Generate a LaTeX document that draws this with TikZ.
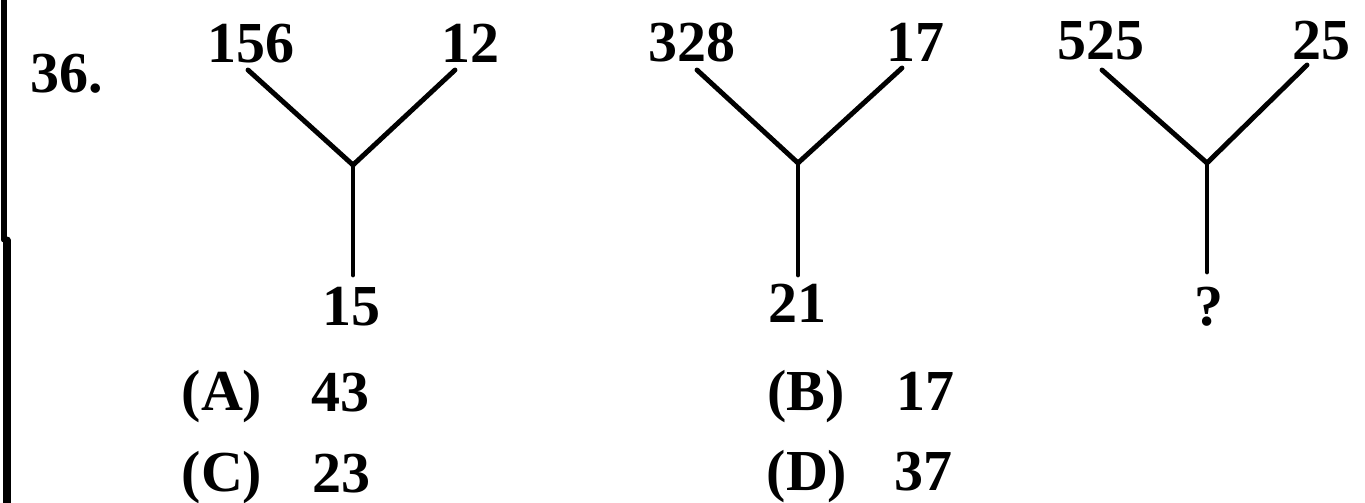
\documentclass[tikz,border=0pt]{standalone}
\usepackage{fontspec}
\setmainfont{Liberation Serif}
\usepackage{tkz-euclide}
\usepackage{tikz}

\tikzset{num/.style={font=\fontsize{33}{36}\selectfont\bfseries, inner sep=0pt, anchor=base}}

\begin{document}
\begin{tikzpicture}[x=0.2mm,y=-0.2mm]
\useasboundingbox (0,0) rectangle (1365,503);

% definitions
\tkzDefPoint(248,70){L1}
\tkzDefPoint(455,70){R1}
\tkzDefPoint(353,165){J1}
\tkzDefPoint(353,275){D1}
\tkzDefPoint(697,70){L2}
\tkzDefPoint(902,68){R2}
\tkzDefPoint(798,163){J2}
\tkzDefPoint(798,275){D2}
\tkzDefPoint(1102,70){L3}
\tkzDefPoint(1307,65){R3}
\tkzDefPoint(1207,163){J3}
\tkzDefPoint(1207,272){D3}
\tkzDefPoint(4,0){B1}
\tkzDefPoint(4,240){B2}
\tkzDefPoint(7,240){B3}
\tkzDefPoint(7,503){B4}

% drawing
\tkzDrawSegments[line width=1mm](B1,B2)
\tkzDrawSegments[line width=1.4mm](B3,B4)
\tkzDrawSegments[line width=2.8pt](L1,J1 R1,J1 J1,D1)
\tkzDrawSegments[line width=2.8pt](L2,J2 R2,J2 J2,D2)
\tkzDrawSegments[line width=2.8pt](L3,J3 R3,J3 J3,D3)

% labels
\node[num] (qno) at (67,93){36.};
\node[num] (t1a) at (251,63){156};
\node[num] (t1b) at (470,63){12};
\node[num] (t1c) at (351,325){15};
\node[num] (t2a) at (692,62){328};
\node[num] (t2b) at (915,62){17};
\node[num] (t2c) at (797,322){21};
\node[num] (t3a) at (1101,60){525};
\node[num] (t3b) at (1321,60){25};
\node[num] (t3c) at (1209,325){?};

% options
\node[num] (optA) at (222,410){(A)};
\node[num] (valA) at (340,411){43};
\node[num] (optB) at (806,410){(B)};
\node[num] (valB) at (925,410){17};
\node[num] (optC) at (222,491){(C)};
\node[num] (valC) at (341,492){23};
\node[num] (optD) at (807,490){(D)};
\node[num] (valD) at (923,490){37};
\end{tikzpicture}
\end{document}
